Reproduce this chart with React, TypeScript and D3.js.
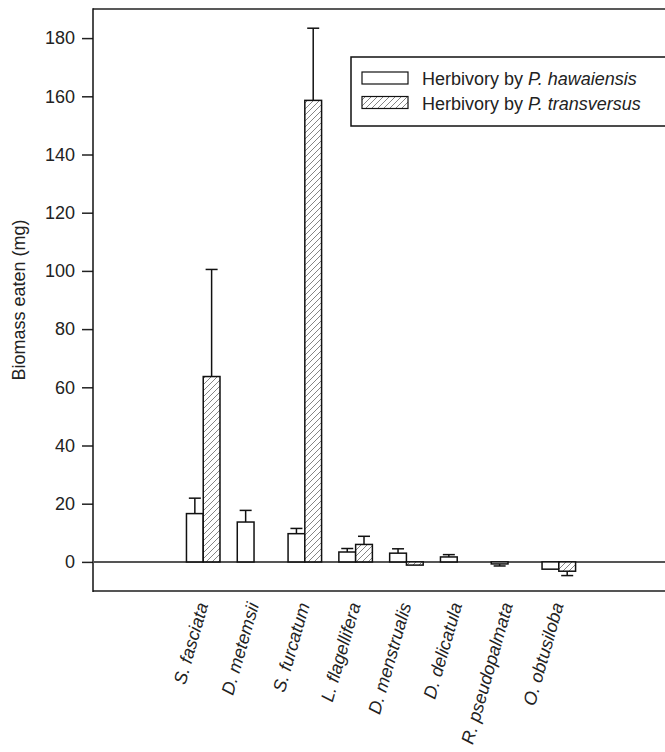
import React, { useRef, useEffect } from 'react';
import * as d3 from 'd3';

const species = [
  'S. fasciata',
  'D. metemsii',
  'S. furcatum',
  'L. flagellifera',
  'D. menstrualis',
  'D. delicatula',
  'R. pseudopalmata',
  'O. obtusiloba',
];
const hawaiensis = [16.6, 13.7, 9.7, 3.4, 3.0, 1.7, -0.7, -2.5];
const hawaiensisErr = [5.3, 4.0, 1.8, 1.2, 1.5, 0.8, 0.7, 0];
const transversus = [63.7, 0, 158.6, 6.0, -1.1, 0, 0, -3.2];
const transversusErr = [36.8, 0, 24.8, 2.8, 0, 0, 0, 1.5];
const yTicks = [0, 20, 40, 60, 80, 100, 120, 140, 160, 180];

const W = 665;
const H = 752;
const margin = { left: 93, top: 9, right: -1, bottom: 161 };
const FONT = '"Liberation Sans", Arial, sans-serif';

function App() {
  const svgRef = useRef(null);

  useEffect(() => {
    const svg = d3.select(svgRef.current);
    svg.selectAll('*').remove();

    const x0 = margin.left;
    const x1 = W - margin.right;
    const y0 = margin.top;
    const y1 = H - margin.bottom;

    // index scale: groups sit at integer positions
    const xScale = d3.scaleLinear().domain([-2.17, 9.11]).range([x0, x1]);
    const yScale = d3.scaleLinear().domain([-10, 190]).range([y1, y0]);
    const step = xScale(1) - xScale(0);
    const bw = step * 0.33;

    const defs = svg.append('defs');
    const pat = defs
      .append('pattern')
      .attr('id', 'hatch')
      .attr('patternUnits', 'userSpaceOnUse')
      .attr('width', 6)
      .attr('height', 6);
    pat.append('rect').attr('width', 6).attr('height', 6).attr('fill', '#fff');
    pat
      .append('path')
      .attr('d', 'M-1,1 l2,-2 M0,6 l6,-6 M5,7 l2,-2')
      .attr('stroke', '#666')
      .attr('stroke-width', 0.8);

    // frame
    svg
      .append('line')
      .attr('x1', x0).attr('x2', x1 + 2)
      .attr('y1', y0).attr('y2', y0)
      .attr('stroke', '#222').attr('stroke-width', 1.5);
    svg
      .append('line')
      .attr('x1', x0).attr('x2', x1 + 2)
      .attr('y1', y1).attr('y2', y1)
      .attr('stroke', '#555').attr('stroke-width', 2);

    // y axis
    const yAxis = d3.axisLeft(yScale).tickValues(yTicks).tickSize(11).tickPadding(7);
    const yg = svg.append('g').attr('transform', `translate(${x0},0)`).call(yAxis);
    yg.select('.domain').remove();
    yg.selectAll('line').attr('stroke', '#222').attr('stroke-width', 1.5);
    yg.selectAll('text')
      .attr('font-family', FONT)
      .attr('font-size', 18)
      .attr('fill', '#222');
    svg
      .append('line')
      .attr('x1', x0).attr('x2', x0)
      .attr('y1', y0 - 0.75).attr('y2', y1 + 1)
      .attr('stroke', '#111').attr('stroke-width', 1.5);

    // zero line
    svg
      .append('line')
      .attr('x1', x0).attr('x2', x1 + 2)
      .attr('y1', yScale(0)).attr('y2', yScale(0))
      .attr('stroke', '#555').attr('stroke-width', 2);

    const series = [
      { values: hawaiensis, errs: hawaiensisErr, fill: '#fff', off: -bw },
      { values: transversus, errs: transversusErr, fill: 'url(#hatch)', off: 0 },
    ];

    series.forEach((s) => {
      const g = svg.append('g');
      // error bars
      s.values.forEach((v, i) => {
        const e = s.errs[i];
        if (!e) return;
        const cx = xScale(i) + s.off + bw / 2;
        const yEnd = v >= 0 ? yScale(v + e) : yScale(v - e);
        g.append('line')
          .attr('x1', cx).attr('x2', cx)
          .attr('y1', yScale(v)).attr('y2', yEnd)
          .attr('stroke', '#111').attr('stroke-width', 1.5);
        g.append('line')
          .attr('x1', cx - 6).attr('x2', cx + 6)
          .attr('y1', yEnd).attr('y2', yEnd)
          .attr('stroke', '#111').attr('stroke-width', 1.5);
      });
      g.selectAll('rect')
        .data(s.values)
        .enter()
        .append('rect')
        .attr('x', (d, i) => xScale(i) + s.off)
        .attr('y', (d) => yScale(Math.max(d, 0)))
        .attr('width', bw)
        .attr('height', (d) => Math.abs(yScale(d) - yScale(0)))
        .attr('fill', s.fill)
        .attr('stroke', '#111')
        .attr('stroke-width', 1.5);
    });

    // category labels
    svg
      .append('g')
      .selectAll('text')
      .data(species)
      .enter()
      .append('text')
      .attr('transform', (d, i) => `translate(${xScale(i) - 1},${y1 + 12}) rotate(-74)`)
      .attr('text-anchor', 'end')
      .attr('dy', '0.35em')
      .attr('font-family', FONT)
      .attr('font-size', 18)
      .attr('font-style', 'italic')
      .attr('fill', '#222')
      .text((d) => d);

    // y title
    svg
      .append('text')
      .attr('transform', `translate(25,${(y0 + y1) / 2}) rotate(-90)`)
      .attr('text-anchor', 'middle')
      .attr('font-family', FONT)
      .attr('font-size', 18)
      .attr('fill', '#222')
      .text('Biomass eaten (mg)');

    // legend
    const lg = svg.append('g');
    lg.append('rect')
      .attr('x', 351).attr('y', 57)
      .attr('width', 340).attr('height', 69)
      .attr('fill', '#fff')
      .attr('stroke', '#111').attr('stroke-width', 1.5);
    const items = [
      { name: 'P. hawaiensis', fill: '#fff' },
      { name: 'P. transversus', fill: 'url(#hatch)' },
    ];
    items.forEach((it, k) => {
      const yy = 72 + k * 24.5;
      lg.append('rect')
        .attr('x', 362).attr('y', yy)
        .attr('width', 46).attr('height', 12)
        .attr('fill', it.fill)
        .attr('stroke', '#111').attr('stroke-width', 1.2);
      const t = lg.append('text')
        .attr('x', 422).attr('y', yy + 13)
        .attr('font-family', FONT)
        .attr('font-size', 18)
        .attr('fill', '#222');
      t.append('tspan').text('Herbivory by ');
      t.append('tspan').attr('font-style', 'italic').text(it.name);
    });
  }, []);

  return (
    <svg
      ref={svgRef}
      width={W}
      height={H}
      style={{ position: 'absolute', left: 0, top: 0, background: '#fff' }}
    />
  );
}

export default App;
